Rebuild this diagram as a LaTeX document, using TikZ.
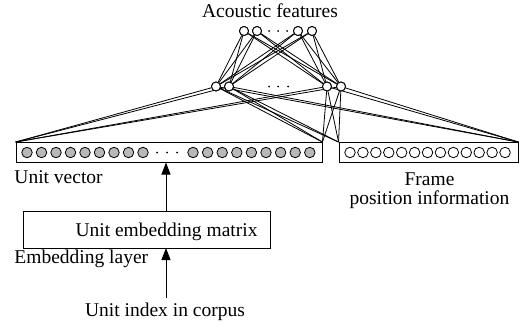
\documentclass[tikz,border=0pt]{standalone}
\usepackage{fontspec}
\setmainfont{Liberation Serif}
\usetikzlibrary{arrows.meta,calc}
\begin{document}
\begin{tikzpicture}[x=1pt,y=-1pt,line width=0.9pt,
  every node/.style={font=\fontsize{19.5}{22}\selectfont},
  lbl/.style={inner sep=0pt},
  neuron/.style={circle,draw,inner sep=0pt,minimum size=9pt,fill=white},
  gneuron/.style={circle,draw,inner sep=0pt,minimum size=10.5pt,fill=black!28,line width=0.8pt},
  wneuron/.style={circle,draw,inner sep=0pt,minimum size=10.5pt,fill=white,line width=0.8pt},
  dotc/.style={circle,fill=black,inner sep=0pt,minimum size=2pt},
  boxn/.style={draw,inner sep=0pt},
  arr/.style={-{Triangle[width=9pt,length=12pt]}},
  conn/.style={line width=0.8pt}]
\useasboundingbox (0,0) rectangle (522,329);

% boxes
\node[boxn,minimum width=306pt,minimum height=20pt] (lbox) at (169,152.5) {};
\node[boxn,minimum width=179pt,minimum height=20pt] (rbox) at (428.5,152.5) {};
\node[boxn,minimum width=247pt,minimum height=37pt] (mat) at (146.5,229.5) {};

% top layer
\node[neuron] (t1) at (244,31) {};
\node[neuron] (t2) at (257,31) {};
\node[neuron] (t3) at (298,31) {};
\node[neuron] (t4) at (312,31) {};
\foreach \x [count=\i] in {269,278,287} \node[dotc] (td\i) at (\x,31) {};

% hidden layer
\node[neuron] (h1) at (216,86.5) {};
\node[neuron] (h2) at (229,86.5) {};
\node[neuron] (h3) at (327,86.5) {};
\node[neuron] (h4) at (341,86.5) {};
\foreach \x [count=\i] in {269,278,288} \node[dotc] (hd\i) at (\x,86.5) {};

% connections top-hidden
\foreach \a in {t1,t2,t3,t4}
  \foreach \b in {h1,h2,h3,h4}
    \draw[conn] (\a) -- (\b);

% connections hidden-boxes
\foreach \b in {h1,h2,h3,h4} {
  \draw[conn] (\b) -- (lbox.north west);
  \draw[conn] (\b) -- (lbox.north east);
  \draw[conn] (\b) -- (rbox.north west);
  \draw[conn] (\b) -- (rbox.north east);
}

% redraw neurons on top
\foreach \n/\x/\y in {t1/244/31,t2/257/31,t3/298/31,t4/312/31,h1/216/86.5,h2/229/86.5,h3/327/86.5,h4/341/86.5}
  \node[neuron] (\n c) at (\x,\y) {};

% unit vector circles
\foreach \i in {0,...,8} \node[gneuron] (ga\i) at (27+14.5*\i,152.5) {};
\foreach \x [count=\i] in {157,167,177} \node[dotc] (ud\i) at (\x,152.5) {};
\foreach \i in {0,...,8} \node[gneuron] (gb\i) at (193+14.6*\i,152.5) {};
\foreach \i in {0,...,12} \node[wneuron] (w\i) at (350+12.92*\i,152.5) {};

% texts
\node[lbl,anchor=base] (acf) at (270,17.5) {Acoustic features};
\node[lbl,align=center,font=\fontsize{19.5}{19}\selectfont] (fr) at (429.5,191) {Frame\\position information};
\node[lbl,anchor=base west] (uv) at (14,183) {Unit vector};
\node[lbl,anchor=base] (uem) at (166.5,236.5) {Unit embedding matrix};
\node[lbl,anchor=base west] (el) at (14,263) {Embedding layer};
\node[lbl,anchor=base] (uic) at (165,316) {Unit index in corpus};

% arrows
\coordinate (a1) at (166,211);
\coordinate (a1e) at (166,162.5);
\draw[arr] (a1) -- (a1e);
\coordinate (a2) at (166,298);
\coordinate (a2e) at (166,248);
\draw[arr] (a2) -- (a2e);
\end{tikzpicture}
\end{document}
